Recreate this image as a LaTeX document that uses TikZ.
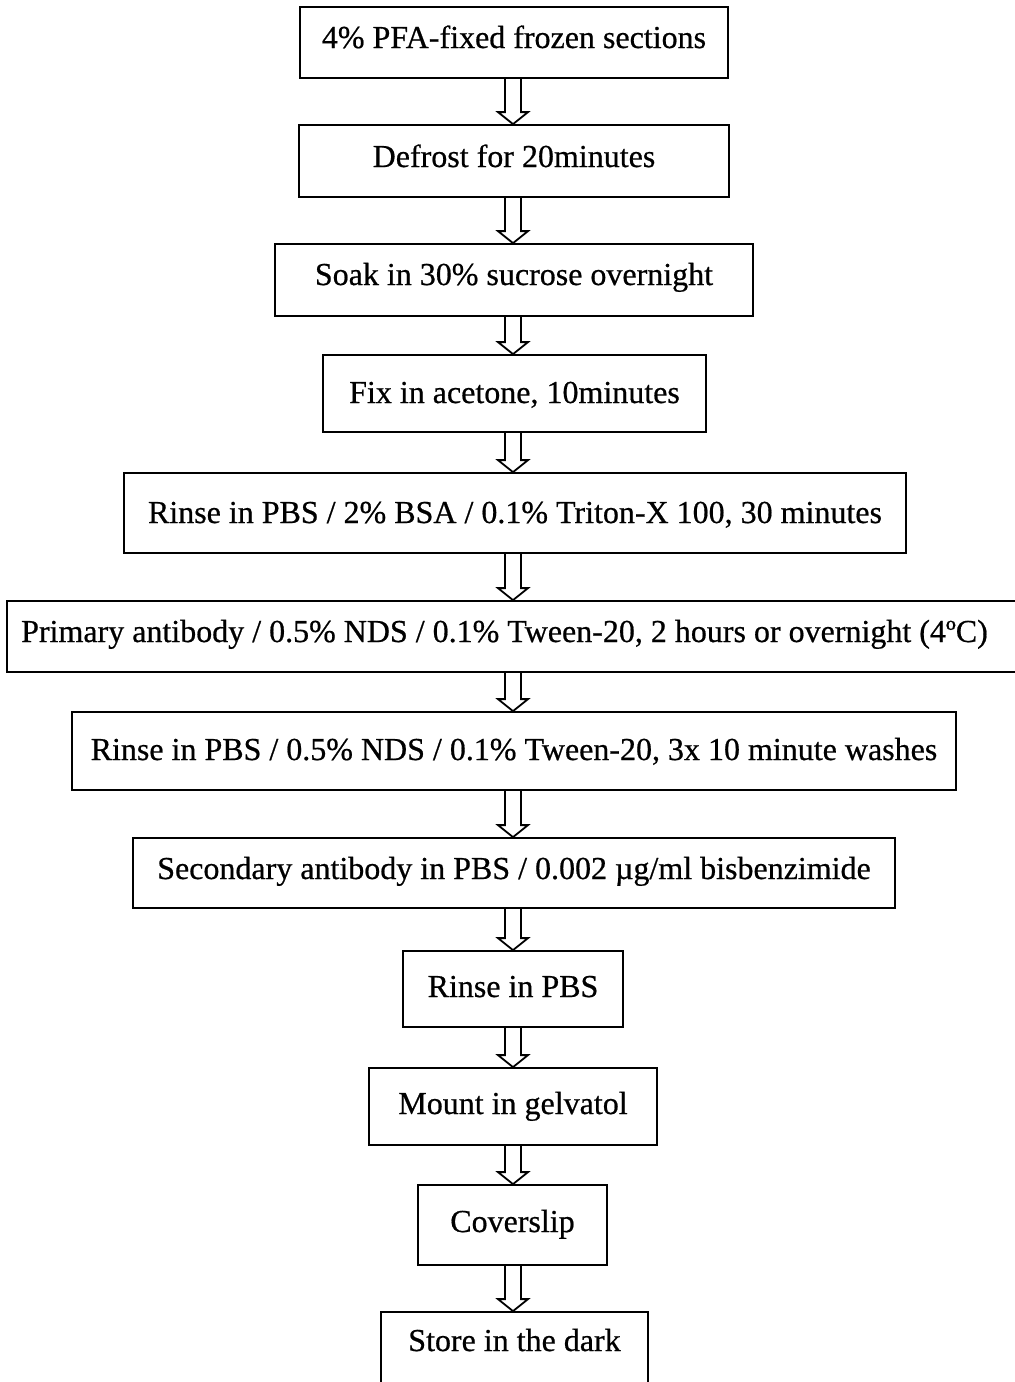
\documentclass[tikz,border=0pt]{standalone}
\usepackage{fontspec}
\setmainfont[FakeBold=0.6]{Liberation Serif}
\usetikzlibrary{calc}
\tikzset{
  stepbox/.style={draw, line width=1.8pt, inner xsep=0pt, inner ysep=0pt, anchor=base,
    font=\fontsize{32}{38}\selectfont},
  arrowline/.style={draw, line width=1.8pt, line join=miter}
}
\newcommand\flowarrow[2]{%
  \draw[arrowline] ($(#1.south -| ax)+(-8,0)$) -- ($(#2.north -| ax)+(-8,-12)$) -- ++(-7,0)
    -- (#2.north -| ax) -- ++(15,-12) -- ++(-7,0) -- ($(#1.south -| ax)+(8,0)$);}
\begin{document}
\begin{tikzpicture}[x=1pt,y=-1pt]
\useasboundingbox (0,0) rectangle (1015,1382);
\clip (0,0) rectangle (1015,1382);
\coordinate (ax) at (513,0);
\node[stepbox, minimum width=428pt, text height=41pt, text depth=30pt] (n1) at (514,48) {4\% PFA-fixed frozen sections};
\node[stepbox, minimum width=430pt, text height=42pt, text depth=30pt] (n2) at (514,167) {Defrost for 20minutes};
\node[stepbox, minimum width=478pt, text height=41pt, text depth=31pt] (n3) at (514,285) {Soak in 30\% sucrose overnight};
\node[stepbox, minimum width=383pt, text height=48pt, text depth=29pt] (n4) at (514.5,403) {Fix in acetone, 10minutes};
\node[stepbox, minimum width=782pt, text height=50pt, text depth=30pt] (n5) at (515,523) {Rinse in PBS / 2\% BSA / 0.1\% Triton-X 100, 30 minutes};
\node[stepbox, minimum width=1023pt, text height=41pt, text depth=30pt] (n6) at (518.5,642) {\hspace*{-28pt}Primary antibody / 0.5\% NDS / 0.1\% Tween-20, 2 hours or overnight (4ºC)};
\node[stepbox, minimum width=884pt, text height=48pt, text depth=30pt] (n7) at (514,760) {Rinse in PBS / 0.5\% NDS / 0.1\% Tween-20, 3x 10 minute washes};
\node[stepbox, minimum width=762pt, text height=41pt, text depth=29pt] (n8) at (514,879) {Secondary antibody in PBS / 0.002 µg/ml bisbenzimide};
\node[stepbox, minimum width=220pt, text height=46pt, text depth=30pt] (n9) at (513,997) {Rinse in PBS};
\node[stepbox, minimum width=288pt, text height=46pt, text depth=31pt] (n10) at (513,1114) {Mount in gelvatol};
\node[stepbox, minimum width=189pt, text height=47pt, text depth=33pt] (n11) at (512.5,1232) {Coverslip};
\node[stepbox, minimum width=267pt, text height=39pt, text depth=49pt] (n12) at (514.5,1351) {Store in the dark};
\flowarrow{n1}{n2}
\flowarrow{n2}{n3}
\flowarrow{n3}{n4}
\flowarrow{n4}{n5}
\flowarrow{n5}{n6}
\flowarrow{n6}{n7}
\flowarrow{n7}{n8}
\flowarrow{n8}{n9}
\flowarrow{n9}{n10}
\flowarrow{n10}{n11}
\flowarrow{n11}{n12}
\end{tikzpicture}
\end{document}
